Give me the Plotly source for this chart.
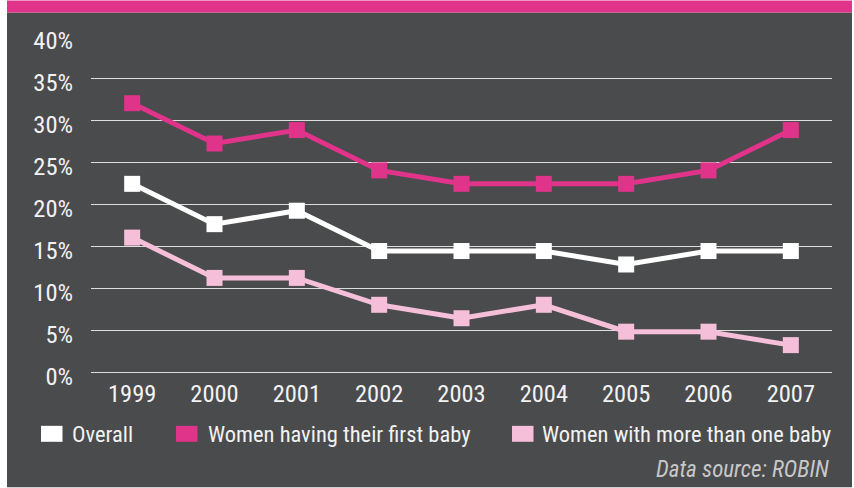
import plotly.graph_objects as go

# ---- data -------------------------------------------------------------
years = ["1999", "2000", "2001", "2002", "2003", "2004", "2005", "2006", "2007"]
overall = [22.4, 17.6, 19.2, 14.4, 14.4, 14.4, 12.8, 14.4, 14.4]
first_baby = [32.0, 27.2, 28.8, 24.0, 22.4, 22.4, 22.4, 24.0, 28.8]
more_than_one = [16.0, 11.2, 11.2, 8.0, 6.4, 8.0, 4.8, 4.8, 3.2]

series_names = ["Overall", "Women having their first baby", "Women with more than one baby"]
y_ticks = [0, 5, 10, 15, 20, 25, 30, 35, 40]
y_tick_labels = ["0%", "5%", "10%", "15%", "20%", "25%", "30%", "35%", "40%"]
source_text = "Data source: ROBIN"

# ---- styling ----------------------------------------------------------
W, H = 854, 488
PLOT_L, PLOT_R, PLOT_T, PLOT_B = 91, 832, 35.5, 372.5
BG = "#4a4b4d"
PINK = "#e0338a"
LIGHT_PINK = "#f5bfda"
WHITE = "#ffffff"
TEXT = "#f2f2f2"
FONT = "Liberation Sans Narrow, Arial Narrow, Roboto Condensed, sans-serif"
colors = [WHITE, PINK, LIGHT_PINK]
values = [overall, first_baby, more_than_one]


def px_x(px):
    return (px - PLOT_L) / (PLOT_R - PLOT_L)


def px_y(py):
    return (PLOT_B - py) / (PLOT_B - PLOT_T)


fig = go.Figure()
for name, vals, col in zip(series_names, values, colors):
    fig.add_trace(go.Scatter(
        x=years, y=vals, name=name, mode="lines+markers",
        line=dict(color=col, width=5),
        marker=dict(symbol="square", size=16, color=col),
        showlegend=False, cliponaxis=False,
    ))

shapes = [
    # panel background and header band
    dict(type="rect", xref="paper", yref="paper", layer="below",
         x0=px_x(7), x1=px_x(852), y0=px_y(H), y1=px_y(12),
         fillcolor=BG, line=dict(width=0)),
    dict(type="rect", xref="paper", yref="paper", layer="below",
         x0=px_x(7), x1=px_x(852), y0=px_y(12), y1=px_y(0),
         fillcolor=PINK, line=dict(width=0)),
]

annotations = []
# hand-built legend row
legend_swatch_x = [41, 176, 512]
legend_text_x = [70, 205.5, 540]
legend_y = 434.5
for name, col, sx, tx in zip(series_names, colors, legend_swatch_x, legend_text_x):
    shapes.append(dict(type="rect", xref="paper", yref="paper",
                       x0=px_x(sx), x1=px_x(sx + 21.5),
                       y0=px_y(legend_y + 8), y1=px_y(legend_y - 8),
                       fillcolor=col, line=dict(width=0)))
    annotations.append(dict(xref="paper", yref="paper", x=px_x(tx), y=px_y(legend_y),
                            xanchor="left", yanchor="middle", showarrow=False,
                            text=name, font=dict(family=FONT, size=22.5, color=TEXT)))

annotations.append(dict(xref="paper", yref="paper", x=px_x(831), y=px_y(470),
                        xanchor="right", yanchor="middle", showarrow=False,
                        text=f"<i>{source_text}</i>",
                        font=dict(family=FONT, size=23, color="#c8c8c8")))

fig.update_layout(
    width=W, height=H,
    margin=dict(l=PLOT_L, r=W - PLOT_R, t=PLOT_T, b=H - PLOT_B, pad=0),
    paper_bgcolor="#ffffff", plot_bgcolor=BG,
    font=dict(family=FONT, size=24, color=TEXT),
    shapes=shapes, annotations=annotations,
    showlegend=False,
    xaxis=dict(type="category", categoryorder="array", categoryarray=years,
               range=[-0.5, 8.5], showgrid=False, zeroline=False, showline=False,
               ticks="", tickfont=dict(size=24.5, color=TEXT), ticklabelstandoff=4,
               fixedrange=True),
    yaxis=dict(range=[0, 40], tickmode="array", tickvals=y_ticks, ticktext=y_tick_labels,
               showgrid=True, gridcolor="#dedede", gridwidth=1.3,
               zeroline=True, zerolinecolor="#dedede", zerolinewidth=1.3,
               showline=False, ticks="", ticklabelstandoff=17, ticklabelshift=4,
               tickfont=dict(size=24.5, color=TEXT), fixedrange=True),
)

fig.write_html("out.html")
